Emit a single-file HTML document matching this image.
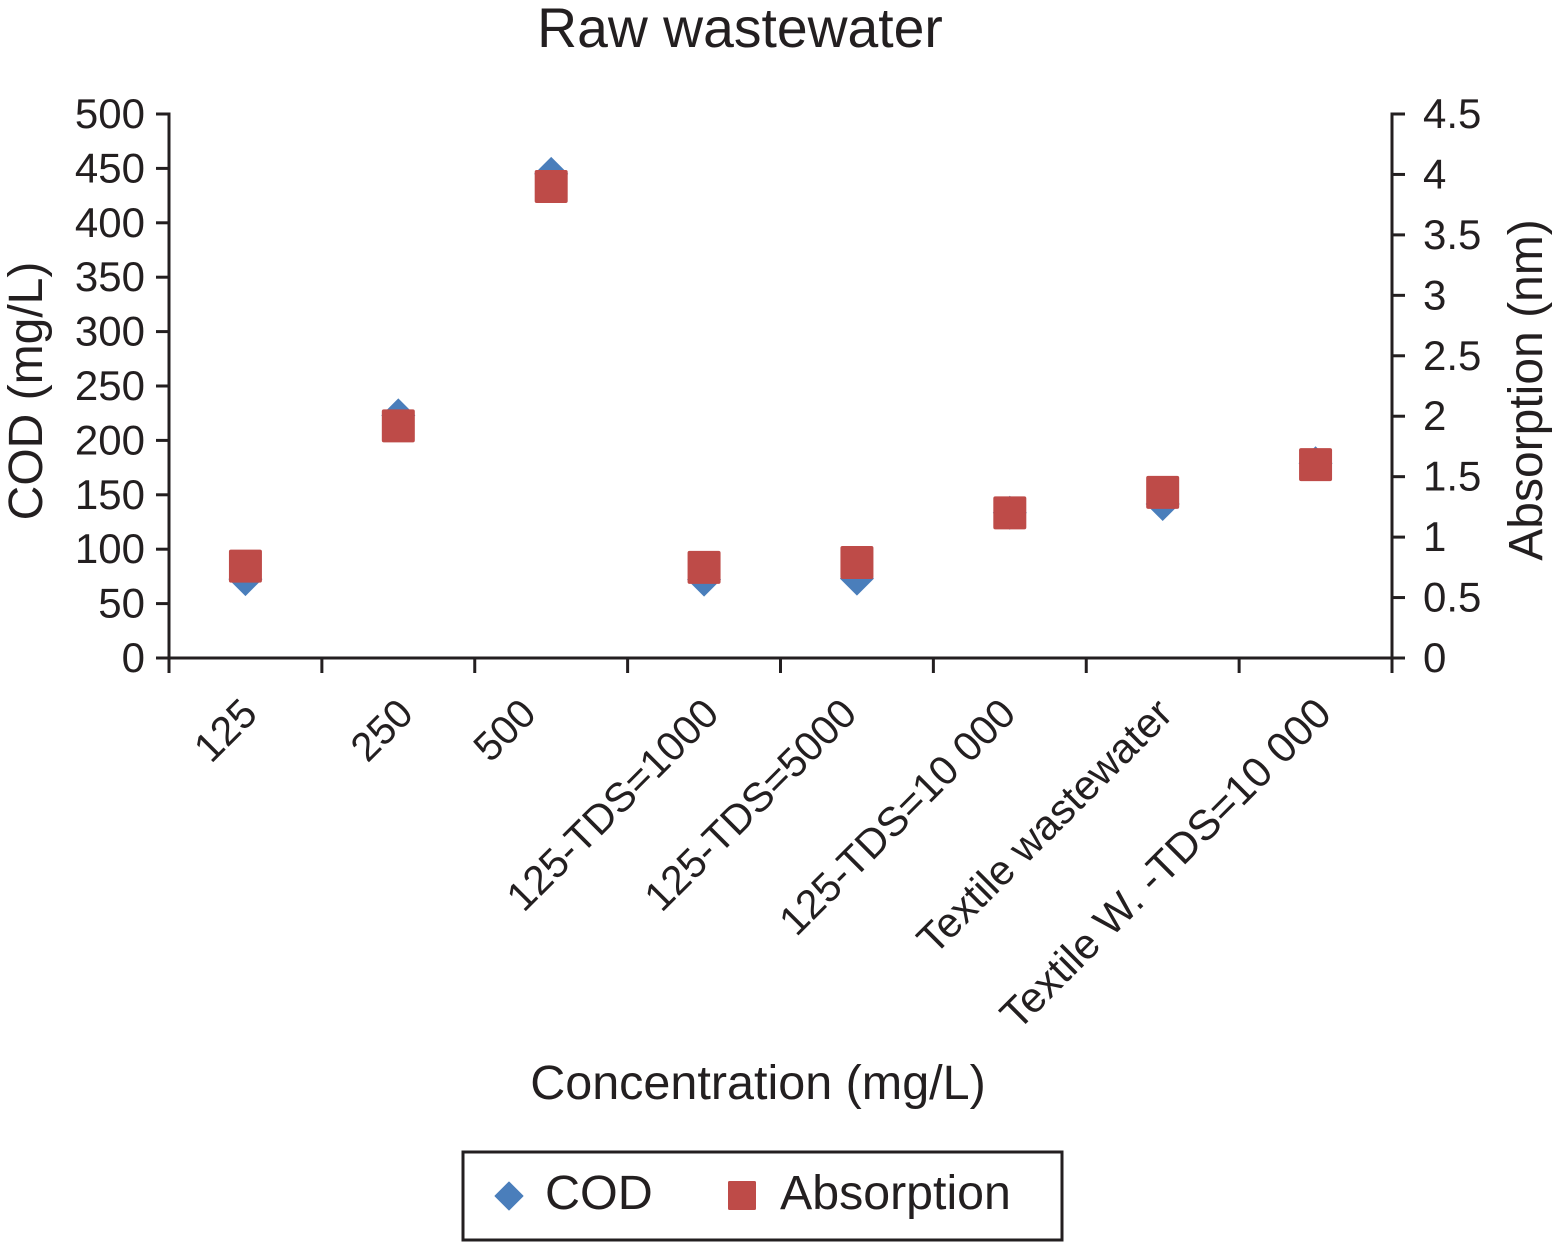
<!DOCTYPE html>
<html>
<head>
<meta charset="utf-8">
<title>Raw wastewater</title>
<style>
html,body{margin:0;padding:0;background:#fff;width:1554px;height:1242px;overflow:hidden}
svg{display:block}
text{font-family:"Liberation Sans",Arial,sans-serif;fill:#231f20}
</style>
</head>
<body>
<svg id="chart" xmlns="http://www.w3.org/2000/svg" width="1554" height="1242" viewBox="0 0 1554 1242">
  <rect width="1554" height="1242" fill="#fff"/>
  <text x="740" y="47" font-size="55.3" text-anchor="middle">Raw wastewater</text>
  <text transform="translate(42,391) rotate(-90)" font-size="48" text-anchor="middle">COD (mg/L)</text>
  <text transform="translate(1542,390) rotate(-90)" font-size="48" text-anchor="middle">Absorption (nm)</text>
  <text x="758" y="1099" font-size="48.5" text-anchor="middle">Concentration (mg/L)</text>
  <g id="axes"></g>
  <g id="marks"></g>
  <g>
    <rect x="463" y="1152" width="599" height="88" fill="#fff" stroke="#231f20" stroke-width="3"/>
    <path d="M509 1182 L523 1196 L509 1210 L495 1196 Z" fill="#4a7ebb" stroke="#4a7ebb" stroke-width="1" stroke-linejoin="round"/>
    <text x="545" y="1209" font-size="48.5">COD</text>
    <rect x="728" y="1181" width="28" height="29" rx="1.5" fill="#be4b48"/>
    <text x="780" y="1209" font-size="48.3">Absorption</text>
  </g>
</svg>
<script>
// Chart data
const categories = ["125", "250", "500", "125-TDS=1000", "125-TDS=5000", "125-TDS=10 000", "Textile wastewater", "Textile W. -TDS=10 000"];
const codValues = [72.5, 223, 445, 72, 73, 133.5, 141.5, 179];
const absorptionValues = [0.76, 1.92, 3.9, 0.75, 0.79, 1.2, 1.37, 1.6];
const leftTickValues = [0, 50, 100, 150, 200, 250, 300, 350, 400, 450, 500];
const rightTickValues = [0, 0.5, 1, 1.5, 2, 2.5, 3, 3.5, 4, 4.5];

const NS = 'http://www.w3.org/2000/svg';
const plot = {left: 169, right: 1392, top: 114, bottom: 658};
const leftMax = 500;
const rightMax = 4.5;
const labelNudge = [14, 17, -13, 17, 2, 8, 12, 18];
const labelSize = [41, 40.5, 40.5, 41, 41, 41, 41.6, 42.4];
const ink = '#231f20';

function yLeft(v) { return plot.bottom - (v / leftMax) * (plot.bottom - plot.top); }
function yRight(v) { return plot.bottom - (v / rightMax) * (plot.bottom - plot.top); }
function xBand(i) { return plot.left + i * (plot.right - plot.left) / categories.length; }
function xCenter(i) { return xBand(i + 0.5); }

const axes = document.getElementById('axes');
const marks = document.getElementById('marks');

function line(parent, x1, y1, x2, y2) {
  const el = document.createElementNS(NS, 'line');
  el.setAttribute('x1', x1);
  el.setAttribute('y1', y1);
  el.setAttribute('x2', x2);
  el.setAttribute('y2', y2);
  el.setAttribute('stroke', ink);
  el.setAttribute('stroke-width', 3);
  parent.appendChild(el);
  return el;
}

let el = line(axes, plot.left, plot.top - 1.5, plot.left, 673);


el = line(axes, plot.right, plot.top - 1.5, plot.right, 673);


el = line(axes, 156, plot.bottom, 1405, plot.bottom);



leftTickValues.forEach(function (v) {
  const y = yLeft(v);
  const tick = line(axes, 156, y, plot.left, y);
  
  
  const t = document.createElementNS(NS, 'text');
  t.setAttribute('x', 145);
  t.setAttribute('y', y + 14);
  t.setAttribute('font-size', 42);
  t.setAttribute('text-anchor', 'end');
  t.textContent = String(v);
  
  
  axes.appendChild(t);
});

rightTickValues.forEach(function (v) {
  const y = yRight(v);
  const tick = line(axes, plot.right, y, 1405, y);
  
  
  const t = document.createElementNS(NS, 'text');
  t.setAttribute('x', 1423);
  t.setAttribute('y', y + 14);
  t.setAttribute('font-size', 42);
  t.textContent = String(v);
  
  
  axes.appendChild(t);
});

for (let i = 1; i < categories.length; i++) {
  const tick = line(axes, xBand(i), plot.bottom, xBand(i), 673);
  
  
}

categories.forEach(function (c, i) {
  const t = document.createElementNS(NS, 'text');
  const ax = xCenter(i) + labelNudge[i];
  t.setAttribute('transform', 'translate(' + ax + ',716) rotate(-45)');
  t.setAttribute('font-size', labelSize[i]);
  t.setAttribute('text-anchor', 'end');
  t.textContent = c;
  
  
  axes.appendChild(t);
});

codValues.forEach(function (v, i) {
  const cx = xCenter(i);
  const cy = yLeft(v);
  const p = document.createElementNS(NS, 'path');
  p.setAttribute('d', 'M' + cx + ' ' + (cy - 17) + 'L' + (cx + 17) + ' ' + cy + 'L' + cx + ' ' + (cy + 17) + 'L' + (cx - 17) + ' ' + cy + 'Z');
  p.setAttribute('fill', '#4a7ebb');
  
  
  marks.appendChild(p);
});

absorptionValues.forEach(function (v, i) {
  const cx = xCenter(i);
  const cy = yRight(v);
  const r = document.createElementNS(NS, 'rect');
  r.setAttribute('x', cx - 16.5);
  r.setAttribute('y', cy - 16.5);
  r.setAttribute('width', 33);
  r.setAttribute('height', 33);
  r.setAttribute('rx', 2);
  r.setAttribute('fill', '#be4b48');
  
  
  marks.appendChild(r);
});
</script>
</body>
</html>
